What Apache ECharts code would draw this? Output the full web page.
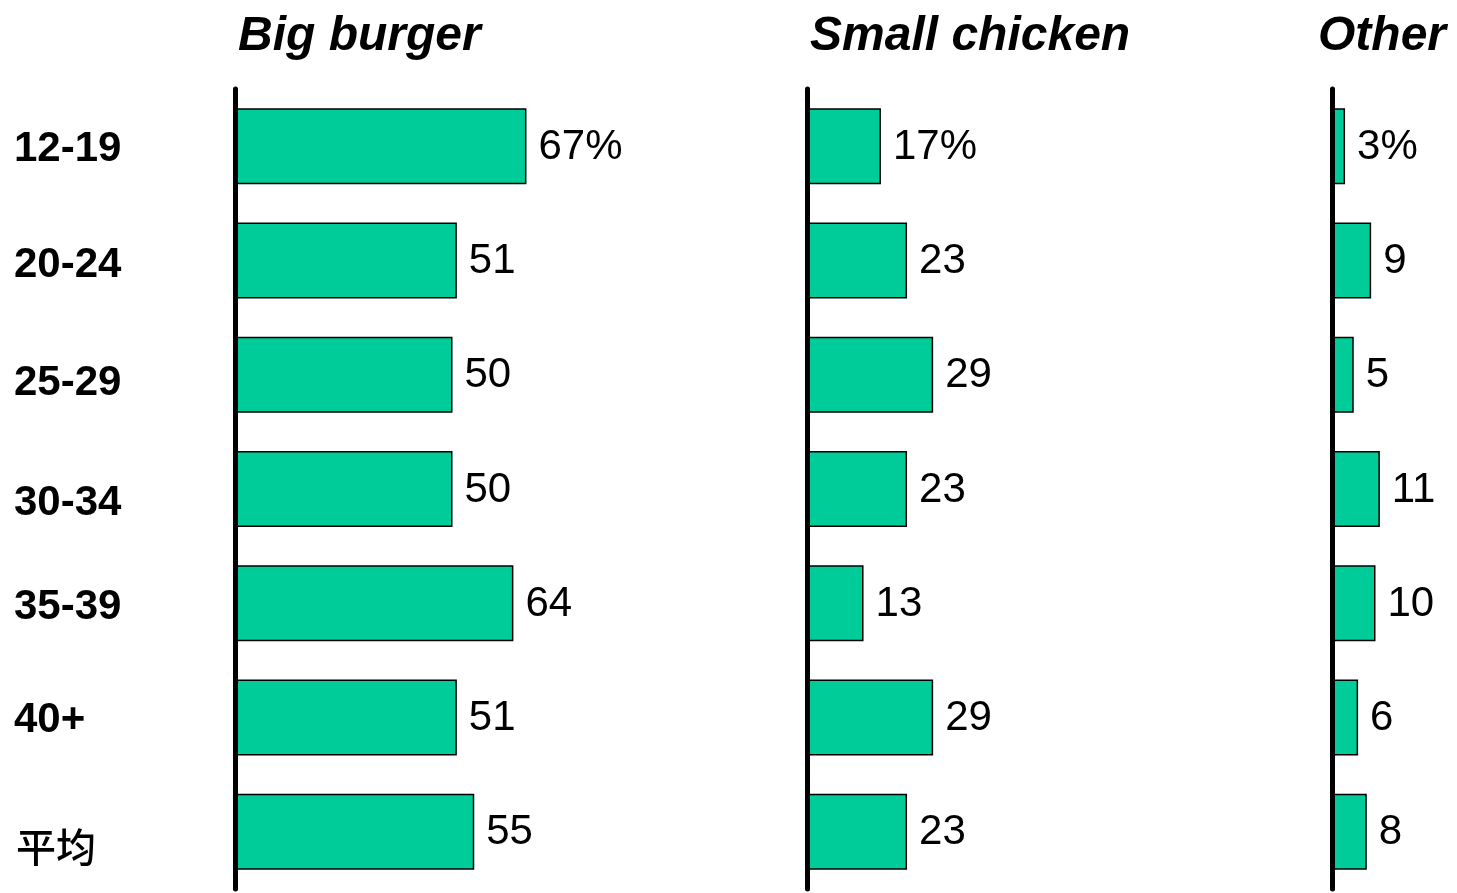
<!DOCTYPE html>
<html>
<head>
<meta charset="utf-8">
<script src="https://cdn.jsdelivr.net/npm/echarts@6/dist/echarts.min.js"></script>
<style>
html,body{margin:0;padding:0;background:#fff;}
#chart{width:1457px;height:893px;}
</style>
</head>
<body>
<div id="chart"></div>
<script>
const categories = ['12-19', '20-24', '25-29', '30-34', '35-39', '40+', '平均'];
const bigBurger = [67, 51, 50, 50, 64, 51, 55];
const smallChicken = [17, 23, 29, 23, 13, 29, 23];
const other = [3, 9, 5, 11, 10, 6, 8];
const panelTitles = ['Big burger', 'Small chicken', 'Other'];
const panelMax = [100, 100, 25];

const FONT = "'Liberation Sans', Arial, 'Noto Sans CJK SC', sans-serif";
const CJK_FONT = "'Noto Sans CJK SC', 'Noto Sans CJK TC', sans-serif";
const PX_PER_UNIT = 4.35;
const panelLeft = [235, 807, 1332];
const titleLeft = [238, 810, 1318];
// vertical nudges (px) of category labels, styling only
const labelNudge = [3, 5, 9, 14, 4, 3, 15];
const seriesData = [bigBurger, smallChicken, other];

const chart = echarts.init(document.getElementById('chart'), null, {renderer: 'canvas'});

const grids = panelLeft.map((l, i) => ({
  left: l, top: 89, height: 800, width: panelMax[i] * PX_PER_UNIT, containLabel: false
}));

const xAxes = panelLeft.map((l, i) => ({
  type: 'value', gridIndex: i, min: 0, max: panelMax[i], show: false
}));

const rich = {};
labelNudge.forEach((n, i) => {
  rich['r' + i] = {
    fontFamily: FONT, fontWeight: 'bold', fontSize: 42, color: '#000',
    padding: [n * 2, 0, 0, 0]
  };
});
rich.r6 = {
  fontFamily: CJK_FONT, fontWeight: 500, fontSize: 40, color: '#000',
  padding: [labelNudge[6] * 2, 0, 0, 2]
};

const yAxes = panelLeft.map((l, i) => ({
  type: 'category', gridIndex: i, data: categories, inverse: true, z: 5,
  axisLine: {show: true, lineStyle: {color: '#000', width: 5}},
  axisTick: {show: false},
  splitLine: {show: false},
  axisLabel: {
    show: i === 0, align: 'left', margin: 221,
    fontFamily: FONT, fontWeight: 'bold', fontSize: 42, color: '#000',
    formatter: (v, idx) => '{r' + idx + '|' + v + '}',
    rich: rich
  }
}));

const series = seriesData.map((d, i) => ({
  type: 'bar', xAxisIndex: i, yAxisIndex: i, data: d, barWidth: 76,
  itemStyle: {color: '#00CC99', borderColor: '#000', borderWidth: 1.5},
  label: {
    show: true, position: 'right', distance: 12, offset: [0, 1],
    fontFamily: FONT, fontSize: 42, color: '#000',
    formatter: p => p.dataIndex === 0 ? p.value + '%' : String(p.value)
  }
}));

const titles = panelTitles.map((t, i) => ({
  text: t, left: titleLeft[i], top: 13, padding: 0,
  textStyle: {fontFamily: FONT, fontSize: 48, fontWeight: 'bold', fontStyle: 'italic', color: '#000', lineHeight: 48}
}));

chart.setOption({
  animation: false,
  backgroundColor: '#fff',
  title: titles,
  grid: grids,
  xAxis: xAxes,
  yAxis: yAxes,
  series: series
});
</script>
</body>
</html>
